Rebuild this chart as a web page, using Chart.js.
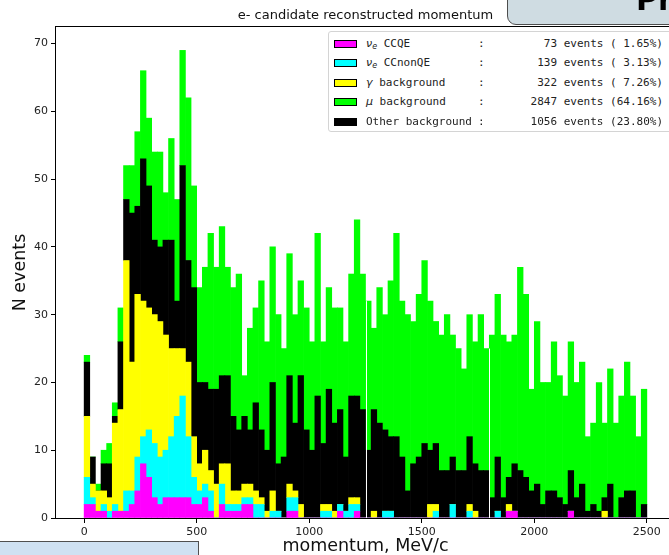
<!DOCTYPE html>
<html>
<head>
<meta charset="utf-8">
<title>e- candidate reconstructed momentum</title>
<script src="https://cdn.jsdelivr.net/npm/chart.js@4.4.0/dist/chart.umd.min.js"></script>
<style>
    html, body { margin: 0; padding: 0; background: #fff; overflow: hidden; }
    #wrap { position: relative; width: 669px; height: 555px; overflow: hidden; }
    #grafico { position: absolute; left: 0; top: 0; }

    /* leyenda estilo matplotlib */
    #leyenda {
        position: absolute; left: 328px; top: 31px; width: 345px; height: 99px;
        background: #fff; border: 1px solid #d4d4d4; border-radius: 3px;
        font-family: 'DejaVu Sans Mono', monospace; font-size: 11px; color: #222;
    }
    .fila { position: absolute; left: 0; width: 100%; height: 19px; line-height: 19px; white-space: pre; }
    .caja { position: absolute; left: 5px; top: 6px; width: 21px; height: 6px; border: 1px solid #000; }
    .lbl { position: absolute; left: 37px; }
    .lbl i { font-family: 'DejaVu Sans', sans-serif; }
    .lbl sub { font-family: 'DejaVu Sans', sans-serif; font-size: 8px; font-style: italic; vertical-align: -2px; line-height: 0; }
    .dos { position: absolute; left: 149px; }
    .num { position: absolute; right: 11px; }

    /* cajas de la diapositiva que asoman por los bordes */
    #cajaArriba {
        position: absolute; left: 507px; top: -14px; width: 200px; height: 37px;
        background: #cfdce2; border: 1.5px solid #4d4d4d; border-radius: 9px;
    }
    #textoArriba {
        position: absolute; left: 636px; top: -15px; font-family: 'DejaVu Sans', sans-serif;
        font-weight: bold; font-size: 30px; line-height: 30px; color: #000;
    }
    #cajaAbajo {
        position: absolute; left: -3px; top: 541px; width: 200px; height: 30px;
        background: #cfe1f2; border: 1.5px solid #505050;
    }
</style>
</head>
<body>
<div id="wrap">
    <canvas id="grafico" width="680" height="555"></canvas>
    <div id="leyenda"></div>
    <div id="cajaArriba"></div>
    <div id="textoArriba">Pr</div>
    <div id="cajaAbajo"></div>
</div>

<script>
// Histograma: 100 bins de 25 MeV/c entre 0 y 2500
const binWidth = 25;
const binLow = Array.from({ length: 100 }, (_, i) => i * binWidth);

// Cuentas por bin, de abajo hacia arriba en la pila
const nueCCQE = [
    2, 2, 1, 1, 0, 1, 1, 1, 2, 4, 8, 6, 3, 2, 3, 3, 3, 3, 3, 2,
    2, 3, 1, 0, 2, 1, 1, 1, 2, 2, 0, 0, 0, 0, 0, 0, 1, 1, 0, 0,
    0, 0, 0, 0, 0, 1, 0, 0, 1, 0, 0, 0, 0, 0, 0, 0, 0, 0, 0, 0,
    0, 0, 0, 0, 0, 0, 0, 0, 0, 0, 0, 0, 0, 0, 0, 1, 1, 0, 0, 0,
    0, 0, 0, 0, 0, 0, 1, 0, 0, 0, 0, 0, 0, 0, 0, 0, 0, 0, 0, 0
];
const nueCCnonQE = [
    4, 1, 0, 1, 1, 1, 0, 3, 2, 5, 4, 7, 8, 7, 7, 9, 12, 15, 9, 4,
    2, 2, 3, 0, 3, 1, 1, 1, 1, 1, 2, 2, 0, 1, 1, 0, 2, 2, 0, 0,
    0, 0, 1, 1, 0, 1, 1, 2, 1, 0, 0, 0, 0, 1, 1, 0, 0, 0, 0, 0,
    0, 0, 1, 0, 0, 2, 0, 0, 1, 0, 0, 0, 0, 1, 0, 0, 0, 0, 0, 0,
    0, 0, 0, 0, 0, 0, 0, 0, 0, 0, 0, 0, 0, 0, 0, 0, 0, 0, 0, 0
];
const gammaBkg = [
    9, 2, 3, 2, 2, 12, 15, 34, 19, 24, 20, 18, 19, 20, 17, 13, 10, 7, 11, 6,
    4, 5, 3, 5, 3, 6, 2, 2, 2, 2, 2, 1, 1, 3, 0, 0, 2, 1, 2, 0,
    0, 0, 1, 1, 1, 0, 0, 1, 1, 0, 0, 1, 0, 0, 0, 0, 0, 0, 0, 0,
    0, 2, 1, 0, 0, 0, 0, 0, 1, 1, 0, 0, 0, 0, 0, 1, 0, 0, 0, 0,
    0, 0, 0, 0, 0, 0, 0, 0, 0, 0, 0, 0, 1, 0, 0, 0, 0, 0, 0, 0
];
const otherBkg = [
    8, 4, 0, 4, 5, 1, 10, 9, 22, 13, 21, 18, 11, 11, 14, 16, 7, 27, 15, 22,
    12, 10, 12, 14, 13, 13, 11, 9, 10, 8, 13, 10, 9, 16, 7, 9, 16, 10, 19, 13,
    10, 18, 9, 17, 13, 14, 8, 15, 15, 16, 10, 15, 14, 12, 11, 12, 9, 4, 8, 9,
    11, 8, 9, 7, 7, 7, 7, 7, 10, 7, 7, 7, 3, 8, 3, 4, 7, 7, 6, 4,
    5, 2, 4, 4, 3, 2, 6, 3, 5, 1, 2, 1, 2, 5, 0, 3, 4, 4, 0, 2
];
const muBkg = [
    1, 0, 1, 2, 3, 2, 5, 5, 7, 11, 13, 10, 13, 14, 7, 15, 15, 17, 24, 15,
    14, 17, 23, 18, 22, 16, 19, 23, 6, 15, 14, 22, 16, 20, 22, 16, 18, 16, 14, 18,
    16, 24, 15, 15, 17, 15, 17, 18, 26, 20, 22, 12, 20, 17, 23, 30, 23, 26, 21, 24,
    27, 22, 18, 20, 23, 18, 18, 15, 18, 18, 23, 18, 24, 24, 24, 20, 19, 30, 27, 15,
    24, 18, 16, 22, 18, 16, 19, 17, 18, 11, 12, 19, 11, 17, 14, 15, 19, 14, 12, 17
];

// Ticks de los ejes
const xTicks = [0, 500, 1000, 1500, 2000, 2500];
const yTicks = [0, 10, 20, 30, 40, 50, 60, 70];

// Leyenda
const serieNombres = ['<i>ν</i><sub>e</sub> CCQE', '<i>ν</i><sub>e</sub> CCnonQE', '<i>γ</i> background', '<i>μ</i> background', 'Other background'];
const serieEventos = [73, 139, 322, 2847, 1056];
const seriePorcentaje = [1.65, 3.13, 7.26, 64.16, 23.80];
const serieColores = ['#ff00ff', '#00ffff', '#ffff00', '#00ff00', '#000000'];

// Costuras blancas que se ven en la figura original
const costuras = [1250, 1800];

const FUENTE = "'DejaVu Sans', sans-serif";

function puntos(valores) {
    return valores.map((v, i) => ({ x: binLow[i] + binWidth / 2, y: v }));
}

function totalBin(i) {
    return nueCCQE[i] + nueCCnonQE[i] + gammaBkg[i] + otherBkg[i] + muBkg[i];
}

// Construir la leyenda HTML
function crearLeyenda() {
    const cont = document.getElementById('leyenda');
    serieNombres.forEach((nombre, k) => {
        const fila = document.createElement('div');
        fila.className = 'fila';
        fila.style.top = (2 + k * 19.4) + 'px';
        const pct = seriePorcentaje[k].toFixed(2).padStart(5, ' ');
        fila.innerHTML =
            '<span class="caja" style="background:' + serieColores[k] + '"></span>' +
            '<span class="lbl">' + nombre + '</span>' +
            '<span class="dos">:</span>' +
            '<span class="num">' + serieEventos[k] + ' events (' + pct + '%)</span>';
        cont.appendChild(fila);
    });
}

// Marco completo alrededor del area del grafico
const marco = {
    id: 'marco',
    afterDatasetsDraw(chart) {
        const { ctx, chartArea: a } = chart;
        ctx.save();
        ctx.strokeStyle = '#000';
        ctx.lineWidth = 1;
        ctx.strokeRect(Math.round(a.left) - 0.5, Math.round(a.top) - 0.5,
            Math.round(a.right - a.left) + 1, Math.round(a.bottom - a.top) + 1);
        ctx.restore();
    }
};

// Lineas blancas finas entre bins
const lineasCostura = {
    id: 'lineasCostura',
    afterDatasetsDraw(chart) {
        const { ctx, scales } = chart;
        ctx.save();
        ctx.strokeStyle = '#ffffff';
        ctx.lineWidth = 1;
        costuras.forEach(c => {
            const i = Math.round(c / binWidth);
            const h = Math.min(totalBin(i - 1), totalBin(i));
            const x = Math.round(scales.x.getPixelForValue(c)) + 0.5;
            ctx.beginPath();
            ctx.moveTo(x, scales.y.getPixelForValue(0));
            ctx.lineTo(x, scales.y.getPixelForValue(h));
            ctx.stroke();
        });
        ctx.restore();
    }
};

function crearGrafico() {
    const ctx = document.getElementById('grafico');
    const series = [nueCCQE, nueCCnonQE, gammaBkg, muBkg, otherBkg];

    // orden de la pila: CCQE, CCnonQE, gamma, other, mu (arriba)
    const orden = [0, 1, 2, 4, 3];
    const datasets = orden.map(k => ({
        label: serieNombres[k].replace(/<[^>]+>/g, ''),
        data: puntos(series[k]),
        backgroundColor: serieColores[k],
        borderWidth: 0,
        barPercentage: 1,
        categoryPercentage: 1
    }));

    window.chartMomento = new Chart(ctx, {
        type: 'bar',
        data: { datasets: datasets },
        options: {
            responsive: false,
            animation: false,
            devicePixelRatio: 1,
            layout: { padding: { left: 0, right: 5, top: 0, bottom: 0 } },
            plugins: {
                legend: { display: false },
                tooltip: { enabled: false },
                title: {
                    display: true,
                    fullSize: false,
                    text: 'e- candidate reconstructed momentum',
                    color: '#111',
                    font: { family: FUENTE, size: 13, weight: 'normal', lineHeight: 1.2 },
                    padding: { top: 7.5, bottom: 3.9 }
                }
            },
            scales: {
                x: {
                    type: 'linear',
                    stacked: true,
                    offset: false,
                    min: -125,
                    max: 2625,
                    afterBuildTicks: s => { s.ticks = xTicks.map(v => ({ value: v })); },
                    afterFit: s => { s.height = 37; },
                    ticks: {
                        color: '#222',
                        padding: 3,
                        maxRotation: 0,
                        font: { family: FUENTE, size: 11 },
                        callback: v => String(v)
                    },
                    grid: { display: true, drawOnChartArea: false, drawTicks: true, tickLength: 5, color: '#000', offset: false },
                    border: { display: false },
                    title: {
                        display: true,
                        text: 'momentum, MeV/c',
                        color: '#111',
                        font: { family: FUENTE, size: 17.5, lineHeight: 1 },
                        padding: { top: 0, bottom: 0 }
                    }
                },
                y: {
                    stacked: true,
                    min: 0,
                    max: 72.45,
                    afterBuildTicks: s => { s.ticks = yTicks.map(v => ({ value: v })); },
                    afterFit: s => { s.width = 56; },
                    ticks: {
                        color: '#222',
                        padding: 3,
                        font: { family: FUENTE, size: 11 },
                        callback: v => String(v)
                    },
                    grid: { display: true, drawOnChartArea: false, drawTicks: true, tickLength: 5, color: '#000' },
                    border: { display: false },
                    title: {
                        display: true,
                        text: 'N events',
                        color: '#111',
                        font: { family: FUENTE, size: 17.5, lineHeight: 1 },
                        padding: { top: 12, bottom: 0 }
                    }
                }
            }
        },
        plugins: [lineasCostura, marco]
    });
}

document.addEventListener('DOMContentLoaded', function() {
    crearLeyenda();
    crearGrafico();
});
</script>
</body>
</html>
